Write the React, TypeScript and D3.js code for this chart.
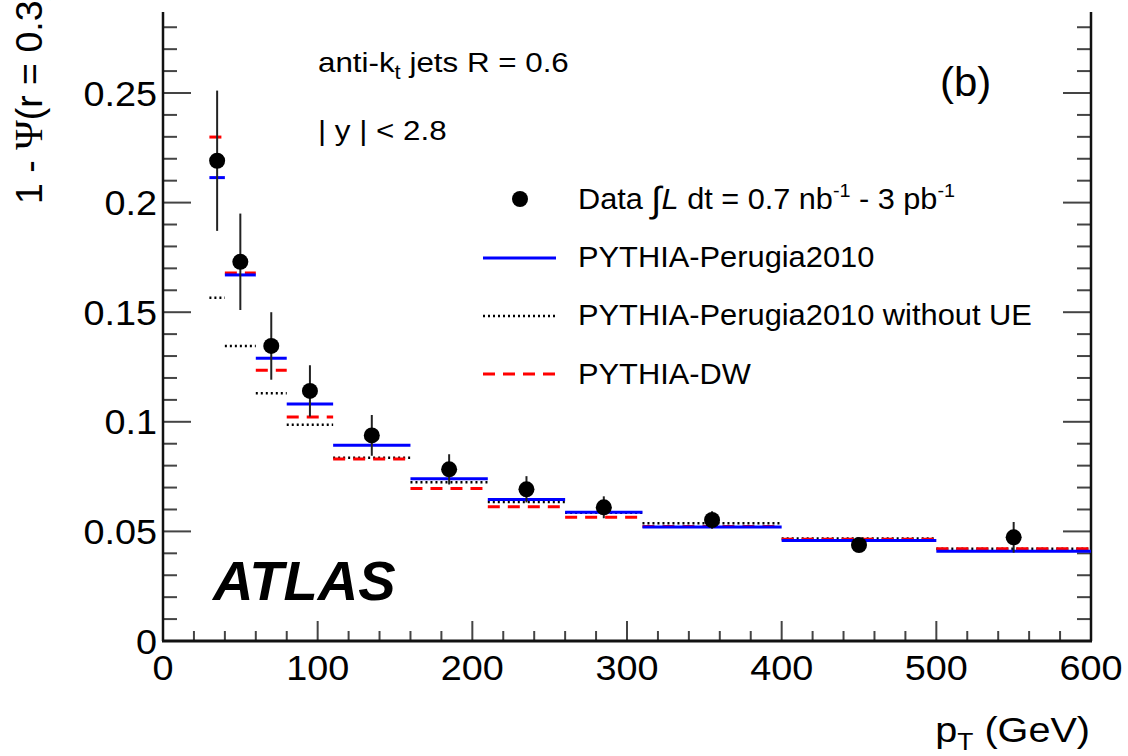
import React from "react";
import * as d3 from "d3";

// Bin edges (GeV) and centers
const binLo = [30, 40, 60, 80, 110, 160, 210, 260, 310, 400, 500];
const binHi = [40, 60, 80, 110, 160, 210, 260, 310, 400, 500, 600];
const binCenter = [35, 50, 70, 95, 135, 185, 235, 285, 355, 450, 550];

// Data points and errors
const dataVal = [0.2191, 0.173, 0.1346, 0.1141, 0.0938, 0.0783, 0.0692, 0.061, 0.0552, 0.0438, 0.0473];
const dataErr = [0.032, 0.022, 0.0154, 0.0117, 0.0093, 0.0069, 0.006, 0.005, 0.004, 0.002, 0.007];

// MC predictions
const perugia = [0.2114, 0.167, 0.129, 0.1081, 0.0893, 0.074, 0.0646, 0.0587, 0.052, 0.0458, 0.0409];
const perugiaNoUE = [0.1566, 0.1346, 0.113, 0.0987, 0.0836, 0.0724, 0.0634, 0.0585, 0.0537, 0.0468, 0.0421];
const pythiaDW = [0.2299, 0.1679, 0.1235, 0.1022, 0.083, 0.0696, 0.0613, 0.0564, 0.0522, 0.0464, 0.0421];

const xTickLabels = [0, 100, 200, 300, 400, 500, 600];
const yTickLabels = [0, 0.05, 0.1, 0.15, 0.2, 0.25];

const FONT = "'Liberation Sans', Arial, Helvetica, sans-serif";

const tr = (x: number, y: number, sx: number) => `translate(${x},${y}) scale(${sx},1)`;

export default function App() {
  const W = 1128, H = 756;
  const x = d3.scaleLinear().domain([0, 600]).range([163, 1091]);
  const y = d3.scaleLinear().domain([0, 0.25]).range([641, 93]);
  const yTop = 12;

  const yMinor = d3.range(0, 0.2851, 0.01);
  const xMinor = d3.range(0, 600.1, 20);

  const lineSeg = (vals: number[]) =>
    vals.map((v, i) => ({ x1: x(binLo[i]), x2: x(binHi[i]), y: y(v) }));

  const axisColor = "#111";
  const tickColor = "#444";

  return (
    <svg width={W} height={H} style={{ position: "absolute", left: 0, top: 0, background: "#fff" }} fontFamily={FONT}>
      <rect x={0} y={0} width={W} height={H} fill="#fff" />

      {/* y ticks left and right */}
      {yMinor.map((v, i) => {
        const major = Math.abs(v / 0.05 - Math.round(v / 0.05)) < 1e-6;
        const len = major ? 28 : 14;
        return (
          <g key={"yt" + i}>
            <line x1={x(0)} x2={x(0) + len} y1={y(v)} y2={y(v)} stroke={tickColor} strokeWidth={2} />
            <line x1={x(600)} x2={x(600) - len} y1={y(v)} y2={y(v)} stroke={tickColor} strokeWidth={2} />
          </g>
        );
      })}
      {/* x ticks */}
      {xMinor.map((v, i) => {
        const major = Math.abs(v % 100) < 1e-6;
        const len = major ? 20 : 10;
        return <line key={"xt" + i} x1={x(v)} x2={x(v)} y1={y(0)} y2={y(0) - len} stroke={tickColor} strokeWidth={2} />;
      })}

      {/* frame */}
      <line x1={x(0)} x2={x(0)} y1={yTop} y2={y(0)} stroke={axisColor} strokeWidth={2.5} />
      <line x1={x(600)} x2={x(600)} y1={yTop} y2={y(0)} stroke={axisColor} strokeWidth={2.5} />
      <line x1={x(0) - 1} x2={x(600) + 1} y1={y(0)} y2={y(0)} stroke={axisColor} strokeWidth={3} />

      {/* tick labels */}
      {yTickLabels.map((v) => (
        <text key={"yl" + v} transform={tr(157, y(v) + 12.5, 1.08)} fontSize={35} textAnchor="end" fill="#000">
          {v === 0 ? "0" : String(v)}
        </text>
      ))}
      {xTickLabels.map((v) => (
        <text key={"xl" + v} transform={tr(x(v), 680, 1.08)} fontSize={35} textAnchor="middle" fill="#000">
          {v}
        </text>
      ))}

      {/* axis titles */}
      <text transform={tr(1090, 742, 1.1)} fontSize={36} textAnchor="end" fill="#000">
        p<tspan fontSize={24} dy={8}>T</tspan>
        <tspan dy={-8}> (GeV)</tspan>
      </text>
      <text transform="translate(42,204) rotate(-90)" fontSize={37.5} textAnchor="start" fill="#000">
        1 - <tspan fontFamily="'Liberation Serif', 'DejaVu Serif', serif" fontSize={40}>Ψ</tspan>(r = 0.3)
      </text>

      {/* MC lines */}
      {lineSeg(perugiaNoUE).map((s, i) => (
        <line key={"noue" + i} x1={s.x1} x2={s.x2} y1={s.y} y2={s.y} stroke="#000" strokeWidth={2.5} strokeDasharray="2,3" />
      ))}
      {lineSeg(pythiaDW).map((s, i) => (
        <line key={"dw" + i} x1={s.x1} x2={s.x2} y1={s.y} y2={s.y} stroke="#ff0000" strokeWidth={3} strokeDasharray="12,8" />
      ))}
      {lineSeg(perugia).map((s, i) => (
        <line key={"per" + i} x1={s.x1} x2={s.x2} y1={s.y} y2={s.y} stroke="#0000ff" strokeWidth={3} />
      ))}

      {/* data */}
      {binCenter.map((c, i) => (
        <g key={"d" + i}>
          <line x1={x(c)} x2={x(c)} y1={y(dataVal[i] + dataErr[i])} y2={y(dataVal[i] - dataErr[i])} stroke="#222" strokeWidth={2} />
          <circle cx={x(c)} cy={y(dataVal[i])} r={8} fill="#000" />
        </g>
      ))}

      {/* labels */}
      <text transform={tr(318, 72, 1.1)} fontSize={28.5} fill="#000">
        anti-k<tspan fontSize={20} dy={7}>t</tspan>
        <tspan dy={-7}> jets R = 0.6</tspan>
      </text>
      <text transform={tr(318, 140, 1.1)} fontSize={28.5} fill="#000">
        | y | {"<"} 2.8
      </text>
      <text transform={tr(940, 96, 1.05)} fontSize={40} fill="#000">
        (b)
      </text>
      <text x={213} y={600} fontSize={56} fontWeight="bold" fontStyle="italic" fill="#000">
        ATLAS
      </text>

      {/* legend */}
      <circle cx={520} cy={199} r={8} fill="#000" />
      <text transform={tr(578, 209, 1.04)} fontSize={29.5} fill="#000">
        Data <tspan fontSize={36} dy={3}>∫</tspan>
        <tspan dy={-3} fontStyle="italic">L</tspan>
        <tspan> dt = 0.7 nb</tspan>
        <tspan fontSize={19} dy={-12}>-1</tspan>
        <tspan dy={12}> - 3 pb</tspan>
        <tspan fontSize={19} dy={-12}>-1</tspan>
      </text>

      <line x1={483} x2={556} y1={258} y2={258} stroke="#0000ff" strokeWidth={3} />
      <text transform={tr(578, 267, 1.045)} fontSize={29.5} fill="#000">PYTHIA-Perugia2010</text>

      <line x1={483} x2={556} y1={316} y2={316} stroke="#000" strokeWidth={2.5} strokeDasharray="2,3" />
      <text transform={tr(578, 325, 1.045)} fontSize={29.5} fill="#000">PYTHIA-Perugia2010 without UE</text>

      <line x1={483} x2={556} y1={374} y2={374} stroke="#ff0000" strokeWidth={3} strokeDasharray="12,8" />
      <text transform={tr(578, 384, 1.045)} fontSize={29.5} fill="#000">PYTHIA-DW</text>
    </svg>
  );
}
